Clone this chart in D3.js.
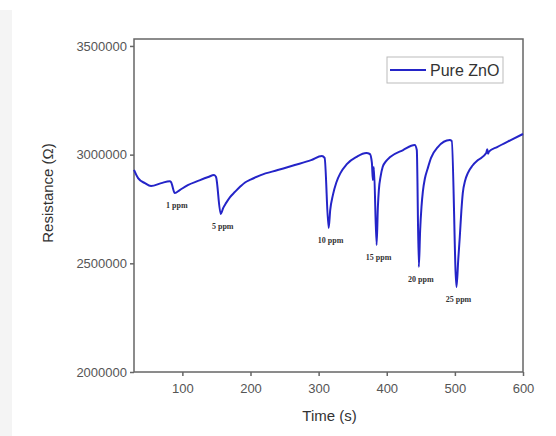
<!DOCTYPE html>
<html>
<head>
<meta charset="utf-8">
<script src="https://cdn.jsdelivr.net/npm/d3@7"></script>
<style>
  body { margin: 0; background: #fff; }
  #chart { width: 556px; height: 436px; position: relative; }
  .tick text { font-family: "Liberation Sans", Arial, sans-serif; font-size: 13px; fill: #555; }
  .axisLabel { font-family: "Liberation Sans", Arial, sans-serif; font-size: 15px; fill: #333; }
  .ppm { font-family: "Liberation Serif", serif; font-size: 8px; font-weight: bold; fill: #333; }
</style>
</head>
<body>
<div id="chart"></div>
<script>
  /* DATA */
  const time = [29, 35, 45, 54, 69, 81.5, 83.4, 88.9, 96.2, 108, 123, 138, 146.5,
    149.4, 156.3, 160, 164, 170, 177, 185, 192, 200, 215, 240, 265, 289, 304.8,
    308.8, 314.7, 317, 321, 326, 332, 341, 356, 370, 375.2,
    378.2, 379.6, 381.1, 385.1, 387, 388.4, 391, 394, 399, 405, 424, 441,
    444.1, 447.1, 449, 451, 453, 456, 460, 465, 475, 492.5,
    495.4, 502.4, 505, 507.2, 509.5, 511.6, 515, 519, 526, 534, 546, 547.5, 548.7, 550, 562, 582, 600];
  const resistance = [2930000, 2892000, 2869000, 2856000, 2869000, 2878000, 2874000, 2823000, 2837000, 2860000, 2879000, 2897000, 2906000,
    2897000, 2727000, 2755000, 2777000, 2805000, 2828000, 2853000, 2872000, 2885000, 2906000, 2929000, 2952000, 2975000, 2994000,
    2985000, 2662000, 2745000, 2815000, 2872000, 2915000, 2955000, 2990000, 3007000, 3003000,
    2962000, 2883000, 2943000, 2584000, 2760000, 2837000, 2900000, 2943000, 2970000, 2989000, 3021000, 3044000,
    3021000, 2483000, 2650000, 2760000, 2830000, 2890000, 2935000, 2985000, 3035000, 3067000,
    3063000, 2391000, 2520000, 2621000, 2740000, 2823000, 2880000, 2915000, 2950000, 2975000, 3007000, 3025000, 3004000, 3014000, 3035000, 3067000, 3095000];

  const ppmLabels = ["1 ppm", "5 ppm", "10 ppm", "15 ppm", "20 ppm", "25 ppm"];
  const ppmTimes = [88.9, 156.3, 314.7, 385.1, 447.1, 502.4];

  const xTicks = [100, 200, 300, 400, 500, 600];
  const yTicks = [2000000, 2500000, 3000000, 3500000];
  const seriesName = "Pure ZnO";

  const data = time.map((t, i) => ({t: t, r: resistance[i]}));

  /* CANVAS */
  const width = 556, height = 436;
  const margin = {top: 39, left: 134, right: 33, bottom: 64};
  const lineColor = "#2424c8";

  const svg = d3.select("#chart")
    .append("svg")
    .attr("width", width)
    .attr("height", height);

  // faint grey strip at the left edge
  svg.append("rect")
    .attr("x", 0).attr("y", 10)
    .attr("width", 12).attr("height", height - 10)
    .attr("fill", "#f4f4f4");

  /* SCALES */
  const xScale = d3.scaleLinear()
    .domain([29, 600])
    .range([margin.left, width - margin.right]);

  const yScale = d3.scaleLinear()
    .domain([2000000, 3532000])
    .range([height - margin.bottom, margin.top]);

  /* AXES */
  const xAxis = svg.append("g")
    .attr("class", "axis")
    .attr("transform", `translate(0,${height - margin.bottom})`)
    .call(d3.axisBottom(xScale).tickValues(xTicks).tickSize(4).tickPadding(8).tickSizeOuter(0));

  const yAxis = svg.append("g")
    .attr("class", "axis")
    .attr("transform", `translate(${margin.left},0)`)
    .call(d3.axisLeft(yScale).tickValues(yTicks).tickFormat(d3.format("d")).tickSize(4).tickPadding(3).tickSizeOuter(0));

  svg.selectAll(".axis path, .axis line").attr("stroke", "#666").attr("stroke-width", 1.5);
  svg.selectAll(".axis .domain").remove();

  // frame
  svg.append("rect")
    .attr("x", margin.left)
    .attr("y", margin.top)
    .attr("width", width - margin.left - margin.right)
    .attr("height", height - margin.top - margin.bottom)
    .attr("fill", "none")
    .attr("stroke", "#666")
    .attr("stroke-width", 1.5);

  /* LINE */
  const line = d3.line()
    .x(d => xScale(d.t))
    .y(d => yScale(d.r))
    .curve(d3.curveMonotoneX);

  svg.append("path")
    .datum(data)
    .attr("d", line)
    .attr("fill", "none")
    .attr("stroke", lineColor)
    .attr("stroke-width", 2)
    .attr("stroke-linejoin", "round");

  /* PPM LABELS */
  svg.selectAll("text.ppm")
    .data(ppmLabels)
    .enter()
    .append("text")
    .attr("class", "ppm")
    .attr("x", (d, i) => xScale(ppmTimes[i]) + 2)
    .attr("y", (d, i) => yScale(resistance[time.indexOf(ppmTimes[i])]) + 15)
    .attr("text-anchor", "middle")
    .text(d => d);

  /* LEGEND */
  const legend = svg.append("g").attr("transform", "translate(387,57)");
  legend.append("rect")
    .attr("width", 116).attr("height", 26)
    .attr("fill", "#fff")
    .attr("stroke", "#bbb");
  legend.append("line")
    .attr("x1", 3).attr("x2", 39)
    .attr("y1", 13).attr("y2", 13)
    .attr("stroke", lineColor)
    .attr("stroke-width", 2);
  legend.append("text")
    .attr("class", "axisLabel")
    .attr("x", 43).attr("y", 19)
    .style("font-size", "16px")
    .text(seriesName);

  /* AXIS LABELS */
  svg.append("text")
    .attr("class", "axisLabel")
    .attr("x", (margin.left + width - margin.right) / 2 + 1)
    .attr("y", 421)
    .attr("text-anchor", "middle")
    .text("Time (s)");

  svg.append("text")
    .attr("class", "axisLabel")
    .attr("x", -193)
    .attr("y", 53)
    .attr("text-anchor", "middle")
    .attr("transform", "rotate(-90)")
    .text("Resistance (Ω)");
</script>
</body>
</html>
